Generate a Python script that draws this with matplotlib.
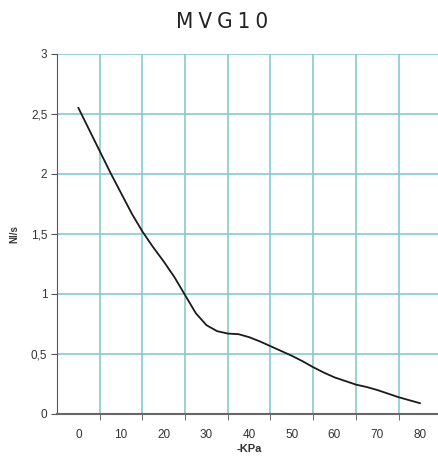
import matplotlib
matplotlib.use("Agg")
import matplotlib.pyplot as plt

# (kPa vacuum vs Nl/s)
kpa = [0, 2.5, 5, 7.5, 10, 12.5, 15, 17.5, 20, 22.5, 25, 27.5, 30, 32.5, 35, 37.5, 40,
       42.5, 45, 47.5, 50, 52.5, 55, 57.5, 60, 62.5, 65, 67.5, 70, 72.5, 75, 77.5, 80]
flow = [2.55, 2.37, 2.19, 2.01, 1.84, 1.67, 1.52, 1.39, 1.27, 1.14, 0.99, 0.84, 0.74,
        0.69, 0.67, 0.665, 0.64, 0.605, 0.565, 0.525, 0.485, 0.44, 0.39, 0.345, 0.305,
        0.275, 0.245, 0.225, 0.2, 0.17, 0.14, 0.115, 0.09]
xlabels = [0, 10, 20, 30, 40, 50, 60, 70, 80]
ylabels = ["0", "0,5", "1", "1,5", "2", "2,5", "3"]
yvals = [0, 0.5, 1, 1.5, 2, 2.5, 3]

plt.rcParams['font.family'] = ['Liberation Sans', 'DejaVu Sans']

fig = plt.figure(figsize=(4.39, 4.61), dpi=100)
ax = fig.add_axes([0.130, 0.102, 0.875, 0.781])

gridcol = '#86c9d0'
for v in yvals[1:]:
    ax.axhline(v, color=gridcol, lw=1.2, zorder=1)
for b in range(5, 80, 10):
    ax.axvline(b, color=gridcol, lw=1.2, zorder=1)

ax.plot(kpa, flow, color='#1a1a1a', lw=1.3, zorder=3)

ax.set_xlim(-5, 85)
ax.set_ylim(0, 3)
ax.set_xticks(xlabels)
ax.set_xticklabels([str(v) for v in xlabels], fontsize=8.5, color='#333333')
ax.tick_params(axis='x', length=0, pad=11)
ax.set_xticks(range(5, 80, 10), minor=True)
ax.tick_params(axis='x', which='minor', length=4, color='#555555', direction='out')
ax.set_yticks(yvals)
ax.set_yticklabels(ylabels, fontsize=8.5, color='#333333')
ax.tick_params(axis='y', length=4, color='#555555', pad=3)

for s in ['top', 'right']:
    ax.spines[s].set_visible(False)
ax.spines['left'].set_color('#555555')
ax.spines['bottom'].set_color('#666666')
ax.spines['bottom'].set_linewidth(1.5)

ax.set_xlabel('-KPa', fontsize=8, fontweight='bold', color='#333333', labelpad=2)
ax.set_ylabel('Nl/s', fontsize=7, fontweight='bold', color='#333333', labelpad=8)

fig.text(0.505, 0.953, 'M\u2005V\u2005G\u20051\u20050', ha='center', va='center', fontsize=16,
         family='DejaVu Sans', fontstretch='condensed', color='#222222')

fig.savefig('out.png', dpi=100)
